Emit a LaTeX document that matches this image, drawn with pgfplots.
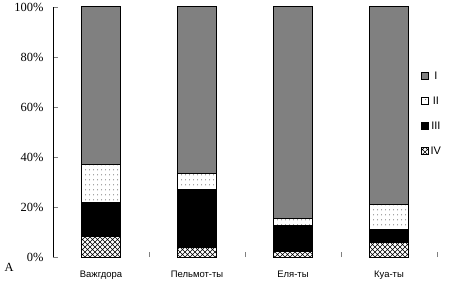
\documentclass[border=0pt]{standalone}
\usepackage{fontspec}
\setmainfont{Liberation Serif}
\newfontfamily\sansf{Liberation Sans}
\usepackage{pgfplots}
\pgfplotsset{compat=1.18}
\usetikzlibrary{patterns}
\pgfdeclarepatternformonly{sparsedots}{\pgfpointorigin}{\pgfqpoint{4bp}{5bp}}{\pgfqpoint{4bp}{5bp}}{%
  \pgfpathcircle{\pgfqpoint{2bp}{2.5bp}}{0.5bp}\pgfusepath{fill}}
\pgfdeclarepatternformonly{bigcross}{\pgfqpoint{-0.5bp}{-0.5bp}}{\pgfqpoint{5.5bp}{5.5bp}}{\pgfqpoint{5bp}{5bp}}{%
  \pgfsetlinewidth{0.6bp}%
  \pgfpathmoveto{\pgfqpoint{0bp}{0bp}}\pgfpathlineto{\pgfqpoint{5bp}{5bp}}%
  \pgfpathmoveto{\pgfqpoint{0bp}{5bp}}\pgfpathlineto{\pgfqpoint{5bp}{0bp}}%
  \pgfusepath{stroke}}
\begin{document}
\begin{tikzpicture}
\begin{axis}[
  at={(0,0)}, anchor=south west,
  scale only axis, width=384bp, height=250bp,
  ybar stacked, bar width=39bp,
  xmin=-0.5, xmax=3.5, ymin=0, ymax=100,
  axis x line*=bottom, axis y line*=left,
  x axis line style={draw=none},
  y axis line style={line width=0.8bp},
  tick align=inside,
  major tick length=5bp,
  xtick={0.5,1.5,2.5,3.5}, xticklabels={},
  x tick style={line width=0.8bp},
  extra x ticks={0,1,2,3},
  extra x tick labels={Важгдора,Пельмот-ты,Еля-ты,Куа-ты},
  extra x tick style={major tick length=0pt, tick label style={font=\sansf\fontsize{9.5}{11}\selectfont, yshift=-10bp}},
  ytick={0,20,40,60,80,100},
  yticklabels={0\%,20\%,40\%,60\%,80\%,100\%},
  y tick label style={font=\fontsize{12.5}{14}\selectfont, xshift=-6bp},
  y tick style={line width=0.8bp},
  /pgf/number format/assume math mode=true,
  reverse legend,
  legend style={draw=none, fill=none, at={(axis description cs:0.958,0.75)}, anchor=north west,
    font=\sansf\fontsize{11}{12}\selectfont, row sep=12bp, inner sep=0pt},
  legend image code/.code={\draw[#1, line width=0.6bp] (0bp,-3.5bp) rectangle (7bp,3.5bp);},
  clip=false,
]
\addplot[draw=black, line width=1bp, pattern=bigcross] coordinates {(0,8.1) (1,3.7) (2,2.1) (3,5.7)};
\addplot[draw=black, line width=1bp, fill=black] coordinates {(0,13.8) (1,23.1) (2,10.3) (3,5.1)};
\addplot[draw=black, line width=1bp, pattern=sparsedots] coordinates {(0,14.9) (1,6.4) (2,2.8) (3,10.0)};
\addplot[draw=black, line width=1bp, fill=black!50] coordinates {(0,63.2) (1,66.8) (2,84.8) (3,79.2)};
\legend{IV,III,II,I}
\node[anchor=west, font=\fontsize{12.5}{14}\selectfont] at (axis description cs:-0.135,-0.04) {А};
\end{axis}
\pgfresetboundingbox
\path (-53bp,-30bp) rectangle (399bp,257bp);
\end{tikzpicture}
\end{document}
